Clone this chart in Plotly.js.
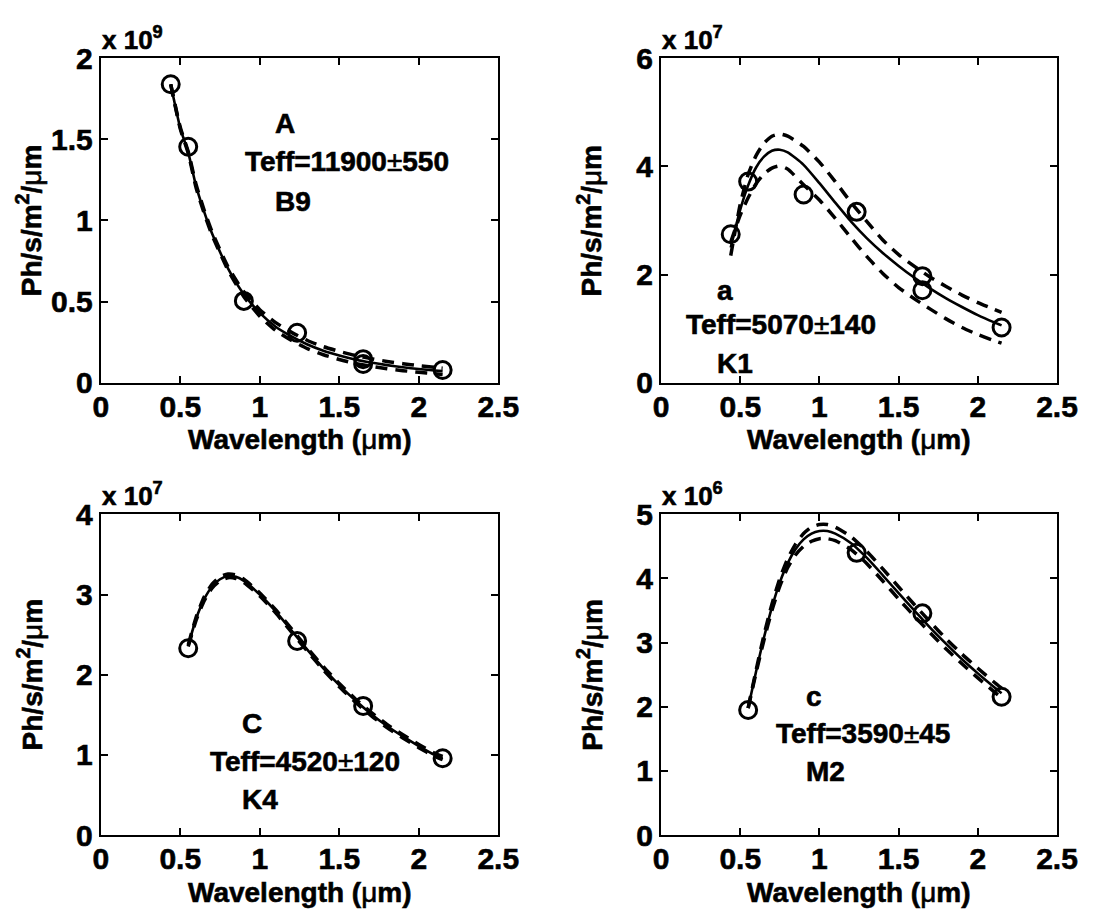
<!DOCTYPE html>
<html>
<head>
<meta charset="utf-8">
<script src="https://cdn.plot.ly/plotly-3.0.1.min.js"></script>
<style>
  html, body { margin: 0; padding: 0; background: #fff; }
  #chart { width: 1117px; height: 910px; }
  /* heavier glyphs, like the thick Helvetica Bold of the original figure */
  #chart svg text { stroke: #000; stroke-width: 0.6px; paint-order: stroke; }
</style>
</head>
<body>
<div id="chart"></div>
<script>
// Photometric fluxes (circles) with the best-fit blackbody (solid) and the
// +/- one-sigma temperature fits (dashed) for four stars.
// Flux values are in units of the exponent shown above each panel.

// Star A (x 10^9)
const bandA = [0.44, 0.55, 0.9, 1.235, 1.65, 1.65, 2.15];
const fluxA = [1.84, 1.455, 0.504, 0.308, 0.145, 0.115, 0.078];
const waveA = [0.44, 0.5, 0.55, 0.6, 0.65, 0.7, 0.8, 0.9, 1.0, 1.1, 1.2, 1.3, 1.4, 1.5, 1.6, 1.7, 1.8, 1.9, 2.0, 2.1, 2.15];
const fitA  = [1.84, 1.57, 1.42, 1.21, 1.055, 0.92, 0.705, 0.545, 0.43, 0.345, 0.285, 0.235, 0.197, 0.168, 0.143, 0.124, 0.108, 0.095, 0.084, 0.075, 0.071];
const hiA   = [1.84, 1.575, 1.425, 1.22, 1.065, 0.93, 0.715, 0.56, 0.45, 0.37, 0.31, 0.26, 0.222, 0.193, 0.168, 0.148, 0.131, 0.117, 0.105, 0.094, 0.089];
const loA   = [1.84, 1.565, 1.415, 1.20, 1.045, 0.91, 0.695, 0.53, 0.41, 0.322, 0.26, 0.21, 0.172, 0.143, 0.119, 0.101, 0.086, 0.074, 0.064, 0.055, 0.051];

// Star a (x 10^7)
const banda = [0.44, 0.55, 0.9, 1.235, 1.65, 1.65, 2.15];
const fluxa = [2.745, 3.72, 3.48, 3.16, 1.97, 1.71, 1.02];
const wavea = [0.44, 0.5, 0.55, 0.6, 0.65, 0.7, 0.75, 0.8, 0.9, 1.0, 1.1, 1.2, 1.3, 1.4, 1.5, 1.6, 1.7, 1.8, 1.9, 2.0, 2.1, 2.15];
const fita  = [2.5, 3.2, 3.65, 3.98, 4.18, 4.29, 4.31, 4.26, 4.03, 3.69, 3.33, 2.98, 2.67, 2.40, 2.16, 1.94, 1.74, 1.56, 1.40, 1.25, 1.12, 1.06];
const hia   = [2.35, 3.3, 3.85, 4.2, 4.43, 4.56, 4.6, 4.56, 4.37, 4.08, 3.72, 3.33, 2.98, 2.64, 2.37, 2.15, 1.95, 1.78, 1.62, 1.48, 1.36, 1.30];
const loa   = [2.6, 3.1, 3.42, 3.68, 3.86, 3.97, 4.01, 3.95, 3.66, 3.38, 3.04, 2.68, 2.33, 2.02, 1.76, 1.55, 1.36, 1.18, 1.02, 0.89, 0.78, 0.73];

// Star C (x 10^7)
const bandC = [0.55, 1.235, 1.65, 2.15];
const fluxC = [2.33, 2.42, 1.61, 0.957];
const waveC = [0.55, 0.6, 0.65, 0.7, 0.75, 0.8, 0.85, 0.9, 1.0, 1.1, 1.2, 1.3, 1.4, 1.5, 1.6, 1.7, 1.8, 1.9, 2.0, 2.1, 2.15];
const fitC  = [2.36, 2.70, 2.94, 3.10, 3.19, 3.23, 3.22, 3.17, 3.0, 2.79, 2.55, 2.31, 2.08, 1.87, 1.68, 1.51, 1.36, 1.23, 1.11, 1.0, 0.96];
const hiC   = [2.37, 2.72, 2.97, 3.13, 3.22, 3.255, 3.245, 3.19, 3.02, 2.81, 2.57, 2.33, 2.10, 1.89, 1.70, 1.53, 1.38, 1.25, 1.13, 1.02, 0.98];
const loC   = [2.35, 2.68, 2.92, 3.08, 3.17, 3.21, 3.20, 3.15, 2.98, 2.77, 2.53, 2.29, 2.06, 1.85, 1.66, 1.49, 1.34, 1.21, 1.09, 0.98, 0.94];

// Star c (x 10^6)
const bandc = [0.55, 1.235, 1.65, 2.15];
const fluxc = [1.95, 4.40, 3.456, 2.156];
const wavec = [0.55, 0.6, 0.65, 0.7, 0.75, 0.8, 0.85, 0.9, 0.95, 1.0, 1.05, 1.1, 1.2, 1.3, 1.4, 1.5, 1.6, 1.7, 1.8, 1.9, 2.0, 2.1, 2.15];
const fitc  = [1.98, 2.55, 3.08, 3.55, 3.94, 4.24, 4.46, 4.61, 4.70, 4.74, 4.74, 4.70, 4.55, 4.32, 4.05, 3.77, 3.50, 3.23, 2.98, 2.74, 2.52, 2.31, 2.21];
const hic   = [1.98, 2.57, 3.12, 3.60, 4.00, 4.31, 4.54, 4.70, 4.80, 4.84, 4.84, 4.80, 4.65, 4.42, 4.15, 3.87, 3.59, 3.32, 3.06, 2.82, 2.60, 2.39, 2.29];
const loc   = [1.98, 2.53, 3.04, 3.50, 3.88, 4.17, 4.37, 4.50, 4.58, 4.62, 4.62, 4.59, 4.45, 4.23, 3.96, 3.68, 3.41, 3.15, 2.90, 2.67, 2.45, 2.24, 2.14];

// Panel labels
const starNames = ['A', 'a', 'C', 'c'];
const teffText  = ['Teff=11900', 'Teff=5070', 'Teff=4520', 'Teff=3590'];
const teffErr   = ['550', '140', '120', '45'];
const specTypes = ['B9', 'K1', 'K4', 'M2'];
const exponents = ['9', '7', '7', '6'];
const yTicks    = [[0, 0.5, 1, 1.5, 2], [0, 2, 4, 6], [0, 1, 2, 3, 4], [0, 1, 2, 3, 4, 5]];
const xTicks    = [0, 0.5, 1, 1.5, 2, 2.5];

const FONT = 'Liberation Sans, Arial, Helvetica, sans-serif';
const MU = '<span style="font-weight:normal">\u03bc</span>';
const PM = '<span style="font-weight:normal">\u00b1</span>';
const bold = v => '<b>' + v + '</b>';

const panels = [
  { band: bandA, flux: fluxA, wave: waveA, fit: fitA, hi: hiA, lo: loA,
    xd: [0.0902, 0.4461], yd: [0.5795, 0.9359],
    txt: [[1.086, 1.599], [0.897, 1.362], [1.086, 1.116]] },
  { band: banda, flux: fluxa, wave: wavea, fit: fita, hi: hia, lo: loa,
    xd: [0.5918, 0.9463], yd: [0.5795, 0.9359],
    txt: [[0.343, 1.714], [0.143, 1.067], [0.343, 0.358]] },
  { band: bandC, flux: fluxC, wave: waveC, fit: fitC, hi: hiC, lo: loC,
    xd: [0.0902, 0.4461], yd: [0.0824, 0.4348],
    txt: [[0.877, 1.393], [0.677, 0.914], [0.877, 0.437]] },
  { band: bandc, flux: fluxc, wave: wavec, fit: fitc, hi: hic, lo: loc,
    xd: [0.5918, 0.9463], yd: [0.0824, 0.4348],
    txt: [[0.901, 2.156], [0.711, 1.585], [0.905, 0.987]] }
];

const traces = [];
const layout = {
  width: 1117, height: 910,
  margin: { l: 0, r: 0, t: 0, b: 0 },
  paper_bgcolor: '#ffffff', plot_bgcolor: '#ffffff',
  showlegend: false,
  font: { family: FONT, color: '#000' },
  annotations: []
};

const textFont = { family: FONT, size: 28, color: '#000', weight: 'bold' };
const tickFont = { family: FONT, size: 30, color: '#000', weight: 'bold' };

panels.forEach((p, i) => {
  const n = i + 1;
  const xa = n === 1 ? 'x' : 'x' + n;
  const ya = n === 1 ? 'y' : 'y' + n;
  const common = { xaxis: xa, yaxis: ya, hoverinfo: 'skip', cliponaxis: false };

  const dashLine = { color: '#000', width: 3.5, dash: '12px,8px', shape: 'spline', smoothing: 0.6 };
  traces.push(Object.assign({ x: p.wave, y: p.hi, mode: 'lines', line: dashLine }, common));
  traces.push(Object.assign({ x: p.wave, y: p.lo, mode: 'lines', line: dashLine }, common));
  traces.push(Object.assign({ x: p.wave, y: p.fit, mode: 'lines',
    line: { color: '#000', width: 2.6, shape: 'spline', smoothing: 0.6 } }, common));
  traces.push(Object.assign({ x: p.band, y: p.flux, mode: 'markers',
    marker: { symbol: 'circle-open', size: 17, color: '#000', line: { color: '#000', width: 3 } } }, common));

  const axBase = {
    ticks: 'inside', ticklen: 7, tickwidth: 2, tickcolor: '#000',
    showline: true, linewidth: 2, linecolor: '#000', mirror: 'ticks',
    showgrid: false, zeroline: false, fixedrange: true,
    tickfont: tickFont
  };
  const yv = yTicks[i];
  layout['xaxis' + (n === 1 ? '' : n)] = Object.assign({}, axBase, {
    domain: p.xd, range: [0, 2.5], tickmode: 'array',
    tickvals: xTicks, ticktext: xTicks.map(bold), anchor: ya,
    ticklabelstandoff: -4
  });
  layout['yaxis' + (n === 1 ? '' : n)] = Object.assign({}, axBase, {
    domain: p.yd, range: [0, yv[yv.length - 1]], tickmode: 'array',
    tickvals: yv, ticktext: yv.map(bold), anchor: xa
  });

  // axis titles
  layout.annotations.push({
    xref: 'paper', yref: 'paper', x: (p.xd[0] + p.xd[1]) / 2, y: p.yd[0],
    xanchor: 'center', yanchor: 'middle', yshift: -57, showarrow: false,
    text: 'Wavelength (' + MU + 'm)', font: textFont
  });
  layout.annotations.push({
    xref: 'paper', yref: 'paper', x: p.xd[0], y: (p.yd[0] + p.yd[1]) / 2,
    xanchor: 'center', yanchor: 'middle', xshift: -71, textangle: -90, showarrow: false,
    text: 'Ph/s/m<sup>2</sup>/' + MU + 'm', font: textFont
  });
  // exponent label
  layout.annotations.push({
    xref: 'paper', yref: 'paper', x: p.xd[0], y: p.yd[1],
    xanchor: 'left', yanchor: 'bottom', xshift: -1, yshift: 1, showarrow: false,
    text: 'x 10<sup>' + exponents[i] + '</sup>',
    font: { family: FONT, size: 26, color: '#000', weight: 'bold' }
  });
  // star, temperature and spectral type
  const labels = [starNames[i], teffText[i] + PM + teffErr[i], specTypes[i]];
  labels.forEach((t, k) => {
    layout.annotations.push({
      xref: xa, yref: ya, x: p.txt[k][0], y: p.txt[k][1],
      xanchor: 'left', yanchor: 'middle', showarrow: false,
      text: t, font: textFont
    });
  });
});

Plotly.newPlot('chart', traces, layout, { staticPlot: true, displayModeBar: false });
</script>
</body>
</html>
